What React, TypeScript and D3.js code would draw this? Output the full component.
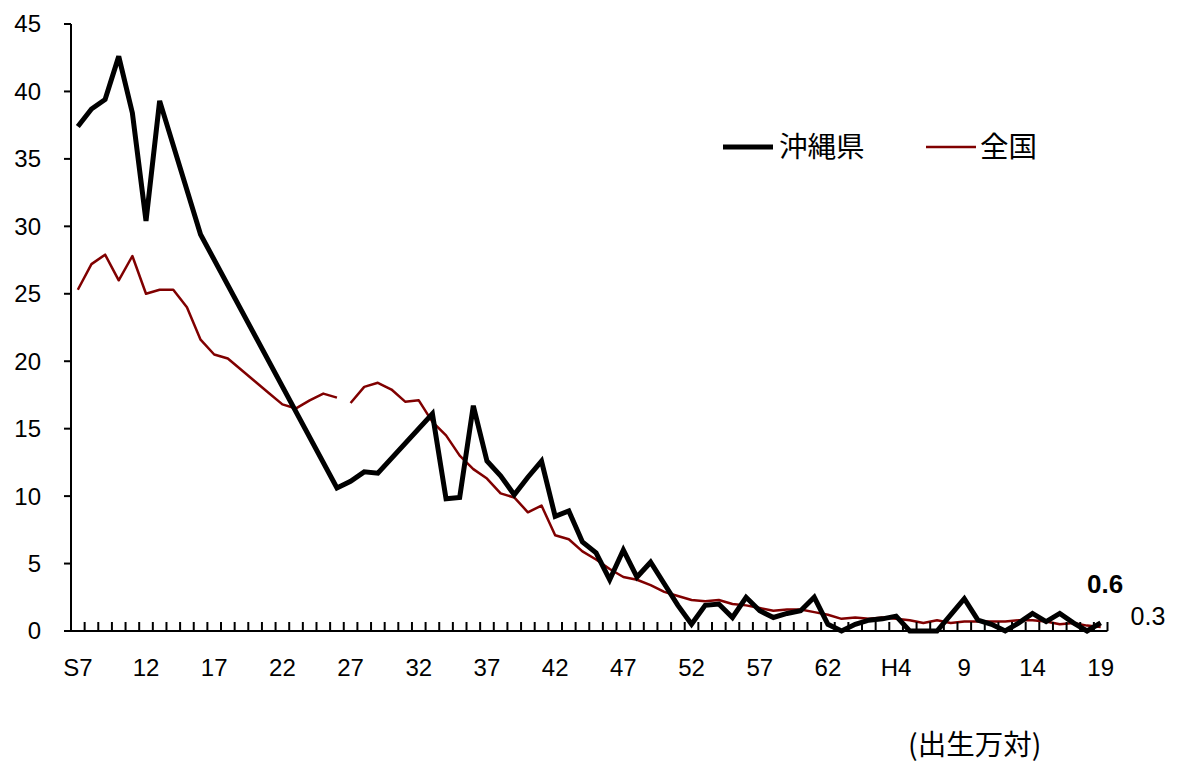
import React from "react";
import * as d3 from "d3";

const categories: string[] = [
  "S7","S8","S9","S10","S11","S12","S13","S14","S15","S16",
  "S17","S18","S19","S20","S21","S22","S23","S24","S25","S26",
  "S27","S28","S29","S30","S31","S32","S33","S34","S35","S36",
  "S37","S38","S39","S40","S41","S42","S43","S44","S45","S46",
  "S47","S48","S49","S50","S51","S52","S53","S54","S55","S56",
  "S57","S58","S59","S60","S61","S62","S63",
  "H1","H2","H3","H4","H5","H6","H7","H8","H9","H10",
  "H11","H12","H13","H14","H15","H16","H17","H18","H19",
];

const tickLabels: { cat: string; label: string }[] = [
  { cat: "S7", label: "S7" }, { cat: "S12", label: "12" }, { cat: "S17", label: "17" },
  { cat: "S22", label: "22" }, { cat: "S27", label: "27" }, { cat: "S32", label: "32" },
  { cat: "S37", label: "37" }, { cat: "S42", label: "42" }, { cat: "S47", label: "47" },
  { cat: "S52", label: "52" }, { cat: "S57", label: "57" }, { cat: "S62", label: "62" },
  { cat: "H4", label: "H4" }, { cat: "H9", label: "9" }, { cat: "H14", label: "14" },
  { cat: "H19", label: "19" },
];

const yTicks: number[] = [0, 5, 10, 15, 20, 25, 30, 35, 40, 45];

// 沖縄県 (null = no data, line joins across)
const okinawa: (number | null)[] = [
  37.4, 38.7, 39.4, 42.6, 38.4, 30.4, 39.3, null, null, 29.4,
  null, null, null, null, null, null, null, null, null, 10.6,
  11.1, 11.8, 11.7, null, null, null, 16.1, 9.8, 9.9, 16.7,
  12.6, 11.5, 10.1, 11.4, 12.6, 8.5, 8.9, 6.6, 5.8, 3.8,
  6.0, 4.0, 5.1, 3.5, 1.9, 0.5, 1.9, 2.0, 1.0, 2.5,
  1.5, 1.0, 1.3, 1.5, 2.5, 0.5, 0.0,
  0.5, 0.8, 0.9, 1.1, 0.0, 0.0, 0.0, 1.2, 2.4, 0.8,
  0.5, 0.0, 0.6, 1.3, 0.7, 1.3, 0.6, 0.0, 0.6,
];

// 全国
const zenkoku: number[] = [
  25.3, 27.2, 27.9, 26.0, 27.8, 25.0, 25.3, 25.3, 24.0, 21.6,
  20.5, 20.2, 19.35, 18.5, 17.65, 16.8, 16.5, 17.1, 17.6, 17.3,
  16.9, 18.1, 18.4, 17.9, 17.0, 17.1, 15.5, 14.5, 13.0, 12.0,
  11.3, 10.2, 9.9, 8.8, 9.3, 7.1, 6.8, 5.9, 5.3, 4.6,
  4.0, 3.8, 3.4, 2.9, 2.6, 2.3, 2.2, 2.3, 2.0, 1.9,
  1.7, 1.5, 1.6, 1.6, 1.4, 1.2, 0.9,
  1.0, 0.9, 1.0, 0.9, 0.8, 0.6, 0.8, 0.6, 0.7, 0.7,
  0.7, 0.7, 0.8, 0.8, 0.7, 0.5, 0.6, 0.4, 0.3,
];
// 全国 line is broken between these two categories in the source
const zenkokuBreakAfter = "S26";

const endLabelOkinawa = "0.6";
const endLabelZenkoku = "0.3";

const W = 1178;
const H = 764;
const X0 = 71;
const X1 = 1107.5;
const Y0 = 631;
const Y1 = 24;

export default function App() {
  const x = d3.scaleBand<string>().domain(categories).range([X0, X1]).paddingInner(0).paddingOuter(0);
  const y = d3.scaleLinear().domain([0, 45]).range([Y0, Y1]);
  const cx = (c: string) => (x(c) as number) + x.bandwidth() / 2;

  const okPts = categories
    .map((c, i) => ({ c, v: okinawa[i] }))
    .filter((d) => d.v !== null) as { c: string; v: number }[];
  const line = d3
    .line<{ c: string; v: number }>()
    .x((d) => cx(d.c))
    .y((d) => y(d.v));

  const zPts = categories.map((c, i) => ({ c, v: zenkoku[i] }));
  const breakIdx = categories.indexOf(zenkokuBreakAfter) + 1;
  const zSeg1 = zPts.slice(0, breakIdx);
  const zSeg2 = zPts.slice(breakIdx);

  const font = "'Liberation Sans', Arial, sans-serif";
  const cjk = "'Noto Sans CJK JP', sans-serif";
  const red = "#800000";

  const lastCat = categories[categories.length - 1];

  return (
    <svg
      width={W}
      height={H}
      style={{ position: "absolute", left: 0, top: 0, background: "#fff" }}
    >
      {/* series */}
      <path d={line(zSeg1) || ""} fill="none" stroke={red} strokeWidth={2.5} strokeLinejoin="round" />
      <path d={line(zSeg2) || ""} fill="none" stroke={red} strokeWidth={2.5} strokeLinejoin="round" />
      <path d={line(okPts) || ""} fill="none" stroke="#000" strokeWidth={5} strokeLinejoin="miter" strokeMiterlimit={3} />

      {/* y axis */}
      <line x1={X0} x2={X0} y1={Y1} y2={Y0} stroke="#000" strokeWidth={2} />
      {yTicks.map((t) => (
        <g key={t}>
          <line x1={X0 - 7} x2={X0} y1={y(t)} y2={y(t)} stroke="#000" strokeWidth={2} />
          <text x={41} y={y(t)} dy="0.35em" textAnchor="end" fontFamily={font} fontSize={24} fill="#000">
            {t}
          </text>
        </g>
      ))}

      {/* x axis */}
      <line x1={X0} x2={X1} y1={Y0} y2={Y0} stroke="#000" strokeWidth={2} />
      {categories.map((c) => (
        <line key={c} x1={x(c) as number} x2={x(c) as number} y1={Y0} y2={Y0 - 9} stroke="#000" strokeWidth={2} />
      ))}
      <line x1={X1} x2={X1} y1={Y0} y2={Y0 - 9} stroke="#000" strokeWidth={2} />
      {tickLabels.map((t) => (
        <text key={t.cat} x={cx(t.cat)} y={668} dy="0.35em" textAnchor="middle" fontFamily={font} fontSize={24} fill="#000">
          {t.label}
        </text>
      ))}

      {/* end labels */}
      <text x={cx(lastCat) + 4.5} y={584} dy="0.35em" textAnchor="middle" fontFamily={font} fontSize={26} fontWeight="bold" fill="#000">
        {endLabelOkinawa}
      </text>
      <text x={1148} y={616} dy="0.35em" textAnchor="middle" fontFamily={font} fontSize={25} fill="#000">
        {endLabelZenkoku}
      </text>

      {/* legend */}
      <line x1={723} x2={773} y1={147} y2={147} stroke="#000" strokeWidth={5} />
      <text x={779} y={147} dy="0.36em" fontFamily={cjk} fontSize={28.5} fill="#000">
        沖縄県
      </text>
      <line x1={926} x2={976} y1={147} y2={147} stroke={red} strokeWidth={2.5} />
      <text x={980} y={147} dy="0.36em" fontFamily={cjk} fontSize={28.5} fill="#000">
        全国
      </text>

      {/* unit */}
      <text x={908} y={745} dy="0.36em" fontFamily={cjk} fontSize={28.5} fill="#000">
        (出生万対)
      </text>
    </svg>
  );
}
